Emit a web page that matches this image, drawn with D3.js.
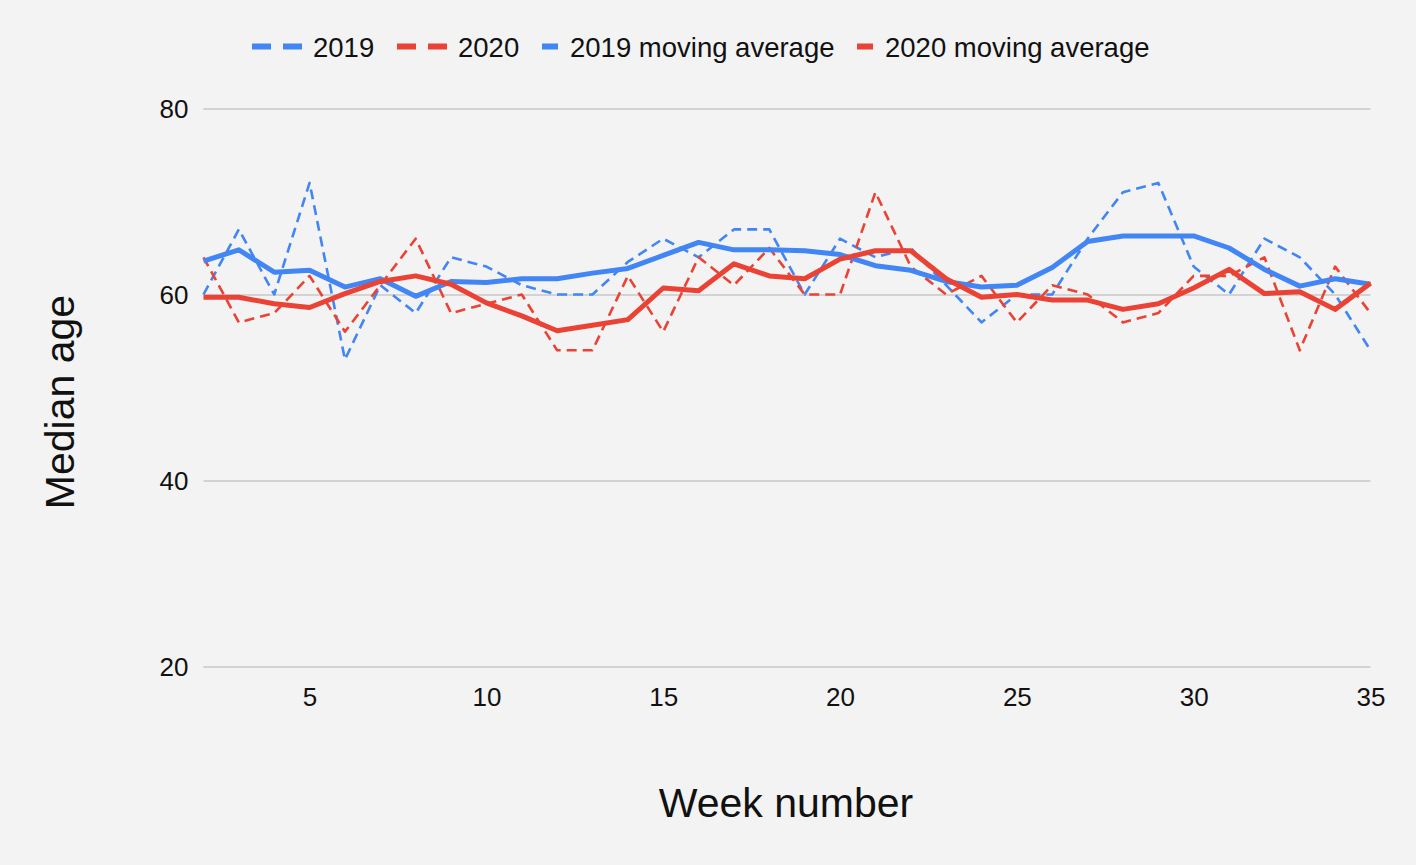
<!DOCTYPE html>
<html>
<head>
<meta charset="utf-8">
<script src="https://cdn.jsdelivr.net/npm/d3@7"></script>
<style>
  html, body { margin: 0; padding: 0; background: #f3f3f3; }
  svg { display: block; font-family: "Liberation Sans", Arial, sans-serif; }
</style>
</head>
<body>
<svg id="chart" width="1416" height="865"></svg>
<script>
// week numbers on the x axis
const weeks = [2,3,4,5,6,7,8,9,10,11,12,13,14,15,16,17,18,19,20,21,22,23,24,25,26,27,28,29,30,31,32,33,34,35]

// weekly median age
const age2019 = [60,67,60,72,53,61,58,64,63,61,60,60,63.5,66,64,67,67,60,66,64,65,61,57,60,60,66,71,72,63,60,66,64,60,54]
const age2020 = [64,57,58,62,56,61,66,58,59,60,54,54,62,56,64,61,65,60,60,71,63,60,62,57,61,60,57,58,62,62,64,54,63,58]

// moving averages
const avg2019 = [63.6,64.8,62.4,62.6,60.8,61.7,59.8,61.4,61.3,61.7,61.7,62.3,62.8,64.2,65.6,64.8,64.8,64.7,64.3,63.1,62.6,61.4,60.8,61.0,62.9,65.7,66.3,66.3,66.3,65.0,62.7,60.9,61.7,61.1]
const avg2020 = [59.7,59.7,59.0,58.6,60.1,61.4,62.0,61.1,59.1,57.7,56.1,56.7,57.3,60.7,60.4,63.3,62.0,61.7,63.8,64.7,64.7,61.7,59.7,60.0,59.4,59.4,58.4,59.0,60.7,62.7,60.1,60.3,58.4,61.2]

const xTicks = [5,10,15,20,25,30,35]
const yTicks = [20,40,60,80]

const blue = '#4285f4'
const red = '#ea4335'

const svg = d3.select('#chart')

svg.append('rect')
    .attr('width', 1416)
    .attr('height', 865)
    .attr('fill', '#f3f3f3')

const x = d3.scaleLinear().domain([2, 35]).range([203.5, 1370.5])
const y = d3.scaleLinear().domain([20, 80]).range([666.5, 108.5])

// gridlines + y labels
const yAxis = d3.axisLeft(y)
    .tickValues(yTicks)
    .tickSize(-(x.range()[1] - x.range()[0]))
    .tickPadding(15)

const yg = svg.append('g')
    .attr('transform', `translate(${x.range()[0]},0)`)
    .call(yAxis)
yg.select('.domain').remove()
yg.selectAll('.tick line').attr('stroke', '#c8c8c8').attr('stroke-width', 1.3)
yg.selectAll('.tick text')
    .attr('fill', '#111')
    .style('font-size', '26px')
    .attr('dy', '0.35em')

// x labels
const xAxis = d3.axisBottom(x)
    .tickValues(xTicks)
    .tickSize(0)
    .tickPadding(21)

const xg = svg.append('g')
    .attr('transform', `translate(0,${y.range()[0]})`)
    .call(xAxis)
xg.select('.domain').remove()
xg.selectAll('.tick text')
    .attr('fill', '#111')
    .style('font-size', '26px')

// series
const series = [
    {values: age2019, color: blue, width: 2.6, dash: '10,6'},
    {values: age2020, color: red, width: 2.6, dash: '10,6'},
    {values: avg2019, color: blue, width: 5, dash: null},
    {values: avg2020, color: red, width: 5, dash: null}
]

const line = d3.line()
    .x(d => x(d[0]))
    .y(d => y(d[1]))

series.forEach(s => {
    svg.append('path')
        .datum(weeks.map((w, i) => [w, s.values[i]]))
        .attr('fill', 'none')
        .attr('stroke', s.color)
        .attr('stroke-width', s.width)
        .attr('stroke-dasharray', s.dash)
        .attr('stroke-linejoin', 'round')
        .attr('d', line)
})

// legend
const legend = [
    {label: '2019', color: blue, dashed: true, x: 252},
    {label: '2020', color: red, dashed: true, x: 397},
    {label: '2019 moving average', color: blue, dashed: false, x: 542},
    {label: '2020 moving average', color: red, dashed: false, x: 857}
]

const lg = svg.append('g')
legend.forEach(l => {
    const g = lg.append('g').attr('transform', `translate(${l.x},46.5)`)
    if (l.dashed) {
        g.append('rect').attr('x', 0).attr('y', -3).attr('width', 19).attr('height', 6).attr('fill', l.color)
        g.append('rect').attr('x', 31).attr('y', -3).attr('width', 19).attr('height', 6).attr('fill', l.color)
    } else {
        g.append('rect').attr('x', 0).attr('y', -3).attr('width', 16).attr('height', 6).attr('fill', l.color)
    }
    g.append('text')
        .attr('x', l.dashed ? 61 : 28)
        .attr('y', 10)
        .attr('fill', '#111')
        .style('font-size', '27.5px')
        .text(l.label)
})

// axis titles
svg.append('text')
    .attr('x', 786)
    .attr('y', 817)
    .attr('text-anchor', 'middle')
    .attr('fill', '#111')
    .style('font-size', '41px')
    .text('Week number')

svg.append('text')
    .attr('transform', 'translate(74,402) rotate(-90)')
    .attr('text-anchor', 'middle')
    .attr('fill', '#111')
    .style('font-size', '41px')
    .text('Median age')
</script>
</body>
</html>
